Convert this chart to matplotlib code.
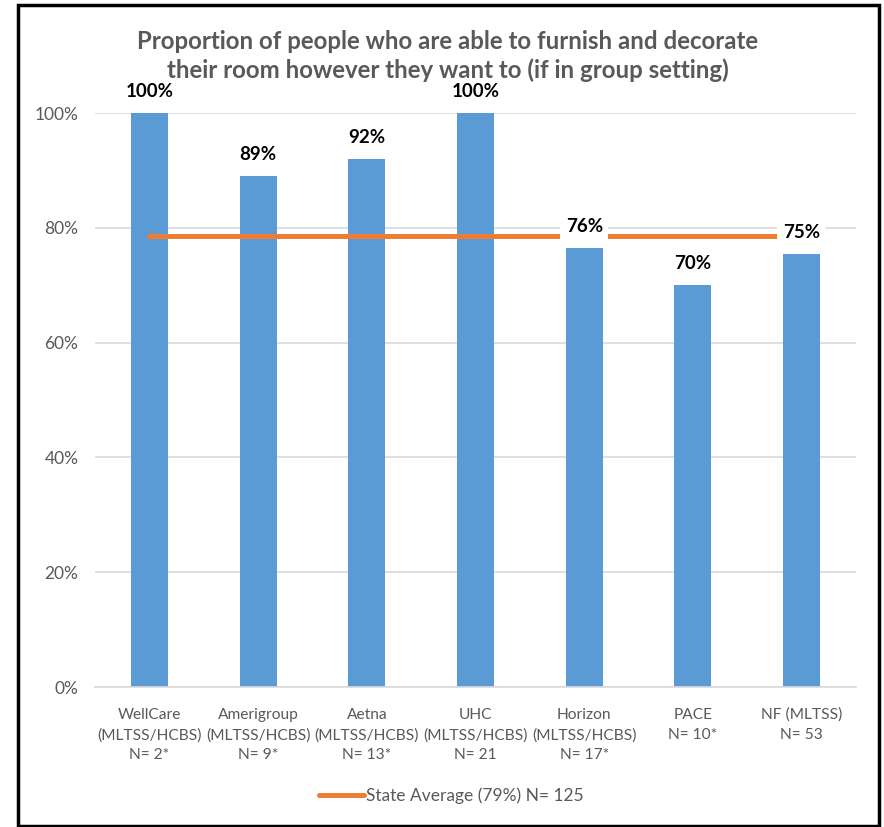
import matplotlib
matplotlib.use("Agg")
import matplotlib.pyplot as plt
from matplotlib.patches import Rectangle
from matplotlib.lines import Line2D

plt.rcParams['font.family'] = ['Lato', 'DejaVu Sans']

categories = ["WellCare\n(MLTSS/HCBS)\nN= 2*", "Amerigroup\n(MLTSS/HCBS)\nN= 9*",
              "Aetna\n(MLTSS/HCBS)\nN= 13*", "UHC\n(MLTSS/HCBS)\nN= 21",
              "Horizon\n(MLTSS/HCBS)\nN= 17*", "PACE\nN= 10*", "NF (MLTSS)\nN= 53"]
values = [100, 89, 92, 100, 76.5, 70, 75.5]
value_labels = ["100%", "89%", "92%", "100%", "76%", "70%", "75%"]
state_avg = 78.6
legend_label = "State Average (79%) N= 125"
title = "Proportion of people who are able to furnish and decorate\ntheir room however they want to (if in group setting)"
yticks = [0, 20, 40, 60, 80, 100]
ytick_labels = ["0%", "20%", "40%", "60%", "80%", "100%"]

W, H = 884, 827
fig = plt.figure(figsize=(W / 100, H / 100), dpi=100)
ax = fig.add_axes([95 / W, (H - 687) / H, (856 - 95) / W, (687 - 113) / H])

x = list(range(len(categories)))
ax.bar(x, values, width=0.34, color="#5B9BD5", zorder=2)
ax.plot([x[0], x[-1]], [state_avg, state_avg], color="#ED7D31", lw=3.6,
        solid_capstyle="round", zorder=3)

for xi, v, lab in zip(x, values, value_labels):
    ax.annotate(lab, (xi, v), xytext=(0, 15.5), textcoords="offset points",
                ha="center", va="center", fontsize=13.5, fontweight="bold",
                color="black", zorder=5,
                bbox=dict(boxstyle="square,pad=0.3", fc="white", ec="none"))

ax.set_xlim(-0.5, len(categories) - 0.5)
ax.set_ylim(0, 100)
ax.set_yticks(yticks)
ax.set_yticklabels(ytick_labels, fontsize=12.5, color="#595959")
ax.set_xticks(x)
ax.set_xticklabels(categories, fontsize=11.2, color="#595959", linespacing=1.55)
ax.tick_params(axis="both", length=0)
ax.tick_params(axis="y", pad=12)
ax.tick_params(axis="x", pad=15)
ax.grid(axis="y", color="#D9D9D9", lw=1.2, zorder=0)
ax.set_axisbelow(True)
for s in ["top", "right", "left"]:
    ax.spines[s].set_visible(False)
ax.spines["bottom"].set_color("#D9D9D9")
ax.spines["bottom"].set_linewidth(1.2)

fig.text(448 / W, 1 - 56 / H, title, ha="center", va="center", fontsize=17.3,
         fontweight="bold", color="#595959", linespacing=1.3)

handle = Line2D([], [], color="#ED7D31", lw=3.6, solid_capstyle="round")
fig.legend([handle], [legend_label], loc="center", bbox_to_anchor=(451 / W, 1 - 796 / H),
           frameon=False, fontsize=12.5, labelcolor="#595959", handlelength=2.6,
           handletextpad=0.1)

fig.patches.append(Rectangle((17.5 / W, 1 - 826 / H), (879 - 17.5) / W, (826 - 4.5) / H,
                             transform=fig.transFigure, fill=False, ec="black", lw=2.5))

fig.savefig("out.png", dpi=100)
